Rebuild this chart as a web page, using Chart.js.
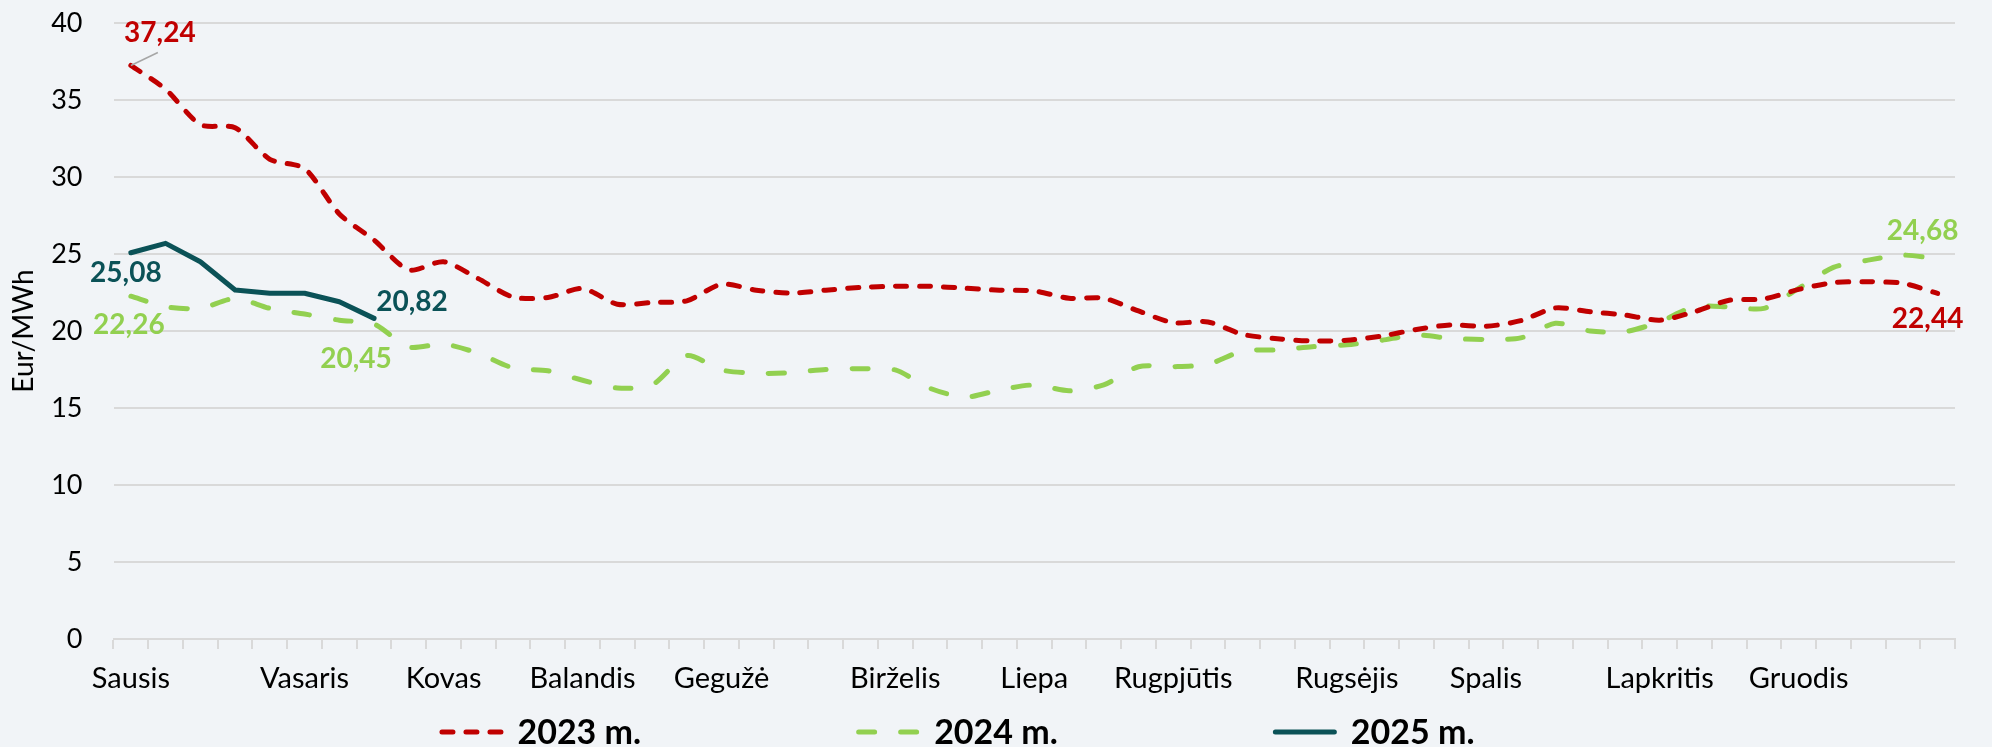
<!DOCTYPE html>
<html>
<head>
<meta charset="utf-8">
<script src="https://cdn.jsdelivr.net/npm/chart.js@4.4.1/dist/chart.umd.min.js"></script>
<style>
  html, body { margin: 0; padding: 0; background: #F1F4F7; }
  #wrap { width: 1992px; height: 747px; position: relative; background: #F1F4F7; }
  canvas { display: block; }
</style>
</head>
<body>
<div id="wrap"><canvas id="c" width="1992" height="747"></canvas></div>
<script>
// ---- Data ----
const categories = ["Sausis","","","","","Vasaris","","","","Kovas","","","","Balandis","","","","Gegužė","","","","","Birželis","","","","Liepa","","","","Rugpjūtis","","","","","Rugsėjis","","","","Spalis","","","","","Lapkritis","","","","Gruodis","","","",""];

const values2023 = [37.24,35.7,33.4,33.2,31.15,30.55,27.6,25.9,23.96,24.5,23.4,22.2,22.17,22.76,21.74,21.85,21.96,23.04,22.65,22.46,22.65,22.83,22.9,22.9,22.78,22.65,22.6,22.13,22.13,21.3,20.54,20.59,19.78,19.5,19.35,19.4,19.67,20.1,20.4,20.3,20.67,21.5,21.25,21.04,20.7,21.25,22.0,22.08,22.7,23.14,23.2,23.1,22.44];

const values2024 = [22.26,21.58,21.47,22.12,21.47,21.1,20.7,20.45,18.96,19.15,18.55,17.6,17.42,16.8,16.3,16.5,18.4,17.47,17.25,17.3,17.5,17.55,17.47,16.28,15.7,16.17,16.5,16.12,16.5,17.68,17.68,17.84,18.7,18.77,18.98,19.1,19.4,19.74,19.52,19.45,19.55,20.5,20.0,19.95,20.6,21.58,21.56,21.47,22.77,24.13,24.6,24.93,24.68];

const values2025 = [25.08,25.69,24.5,22.66,22.45,22.45,21.9,20.82];

const seriesNames = ["2023 m.","2024 m.","2025 m."];
const yTicks = [0,5,10,15,20,25,30,35,40];

// ---- Styling ----
const FONT = "Lato, 'Open Sans', 'DejaVu Sans', sans-serif";
const RED = '#C00000', GREEN = '#92D050', TEAL = '#0B5257';
Chart.defaults.font.family = FONT;

// value labels: dataset index, point index, offset of label centre from point
const labelSpecs = [
  {ds:0, i:0,  dx:29,  dy:-34, leader:true},
  {ds:0, i:52, dx:-10, dy:25},
  {ds:1, i:0,  dx:-2,  dy:28},
  {ds:1, i:7,  dx:-18, dy:34},
  {ds:1, i:52, dx:-15, dy:-29},
  {ds:2, i:0,  dx:-5,  dy:19},
  {ds:2, i:7,  dx:38,  dy:-17}
];

const valueLabels = {
  id: 'valueLabels',
  afterDatasetsDraw(chart) {
    const ctx = chart.ctx;
    ctx.save();
    labelSpecs.forEach(s => {
      const ds = chart.data.datasets[s.ds];
      const el = chart.getDatasetMeta(s.ds).data[s.i];
      const v = ds.data[s.i];
      const txt = v.toFixed(2).replace('.', ',');
      if (s.leader) {
        ctx.strokeStyle = '#A6A6A6';
        ctx.lineWidth = 1.5;
        ctx.setLineDash([]);
        ctx.beginPath();
        ctx.moveTo(el.x, el.y);
        ctx.lineTo(el.x + 27, el.y - 13);
        ctx.stroke();
      }
      ctx.font = "bold 28px " + FONT;
      ctx.fillStyle = ds.borderColor;
      ctx.textAlign = 'center';
      ctx.textBaseline = 'alphabetic';
      ctx.fillText(txt, el.x + s.dx, el.y + s.dy + 10);
    });
    ctx.restore();
  }
};

const customLegend = {
  id: 'customLegend',
  afterDraw(chart) {
    const ctx = chart.ctx;
    ctx.save();
    ctx.font = "bold 34px " + FONT;
    const sample = 64, gapText = 14, gapItem = 215;
    const items = chart.data.datasets.map(d => ({d, w: ctx.measureText(d.label).width}));
    const total = items.reduce((a, it) => a + sample + gapText + it.w, 0) + gapItem * (items.length - 1);
    let x = 957 - total / 2;
    const yc = 732;
    items.forEach(it => {
      const d = it.d;
      ctx.strokeStyle = d.borderColor;
      ctx.lineWidth = d.borderWidth;
      ctx.lineCap = d.borderCapStyle || 'butt';
      ctx.setLineDash(d.borderDash || []);
      ctx.beginPath();
      ctx.moveTo(x + 2.5, yc);
      ctx.lineTo(x + sample - 2.5, yc);
      ctx.stroke();
      ctx.setLineDash([]);
      ctx.fillStyle = '#000';
      ctx.textAlign = 'left';
      ctx.textBaseline = 'alphabetic';
      ctx.fillText(d.label, x + sample + gapText, yc + 12);
      x += sample + gapText + it.w + gapItem;
    });
    ctx.restore();
  }
};

const bgPlugin = {
  id: 'bg',
  beforeDraw(chart) {
    const ctx = chart.ctx;
    ctx.save();
    ctx.fillStyle = '#F1F4F7';
    ctx.fillRect(0, 0, chart.width, chart.height);
    ctx.restore();
  }
};

new Chart(document.getElementById('c'), {
  type: 'line',
  data: {
    labels: categories,
    datasets: [
      {label: seriesNames[0], data: values2023, borderColor: RED, backgroundColor: RED, borderWidth: 5,
       borderDash: [11, 13], borderCapStyle: 'round', borderJoinStyle: 'round', pointRadius: 0, tension: 0.25, fill: false},
      {label: seriesNames[1], data: values2024, borderColor: GREEN, backgroundColor: GREEN, borderWidth: 5,
       borderDash: [16, 26], borderCapStyle: 'round', borderJoinStyle: 'round', pointRadius: 0, tension: 0.25, fill: false},
      {label: seriesNames[2], data: values2025, borderColor: TEAL, backgroundColor: TEAL, borderWidth: 5,
       borderCapStyle: 'round', borderJoinStyle: 'round', pointRadius: 0, tension: 0, fill: false}
    ]
  },
  options: {
    responsive: false,
    animation: false,
    devicePixelRatio: 1,
    layout: {padding: {left: 0, right: 37, top: 23, bottom: 0}},
    plugins: {legend: {display: false}, tooltip: {enabled: false}},
    scales: {
      x: {
        offset: true,
        grid: {offset: true, drawOnChartArea: false, drawTicks: true, tickLength: 10, color: '#D9D9D9', lineWidth: 2},
        border: {display: true, color: '#D9D9D9', width: 2},
        ticks: {autoSkip: false, maxRotation: 0, minRotation: 0, padding: 12, color: '#000', font: {size: 29}},
        afterFit(s) { s.height = 108; s.paddingLeft = 0; s.paddingRight = 0; }
      },
      y: {
        min: 0, max: 40,
        afterBuildTicks(s) { s.ticks = yTicks.map(v => ({value: v})); },
        ticks: {padding: 31, color: '#000', font: {size: 27}},
        grid: {color: '#D9D9D9', lineWidth: 2, drawTicks: false},
        border: {display: false},
        title: {display: true, text: 'Eur/MWh', color: '#000', font: {size: 28}, padding: {top: 7, bottom: 0}},
        afterFit(s) { s.width = 113.5; s.paddingTop = 0; s.paddingBottom = 0; }
      }
    }
  },
  plugins: [bgPlugin, valueLabels, customLegend]
});
</script>
</body>
</html>
